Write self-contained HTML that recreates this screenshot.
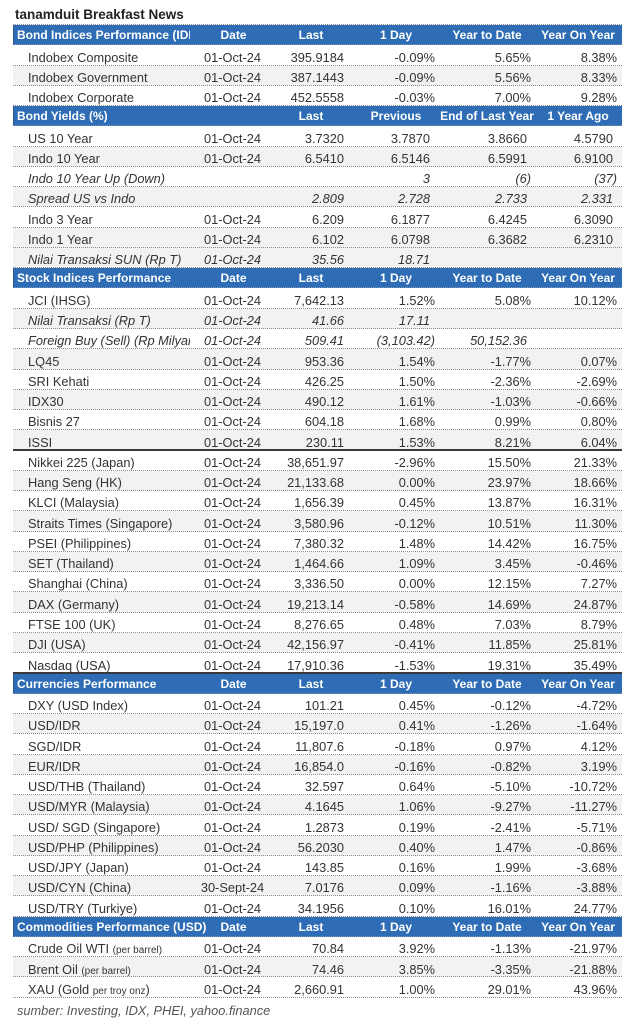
<!DOCTYPE html>
<html><head><meta charset="utf-8">
<style>
*{margin:0;padding:0}
body{width:640px;height:1024px;background:#fff;position:relative;overflow:hidden;font-family:"Liberation Sans",Arial,sans-serif;color:#333}
.title{position:absolute;left:15px;top:7px;font-weight:bold;font-size:13.5px;line-height:16px;color:#222}
.wrap{position:absolute;left:13px;top:24px;width:609px;border-top:1px dotted #8c8c8c}
.r{position:relative;height:20.27px;box-sizing:border-box;border-bottom:1px dotted #8c8c8c;background:#fff;font-size:12.8px}
.r.g{background:#f2f2f2}
.r.k{border-bottom:2px solid #3a3a3a}
.r span{position:absolute;top:4.3px;line-height:15px;white-space:nowrap}
.r span.sm{position:static;font-size:10px}
.l{left:15px}
.d{left:182px;width:75px;text-align:center}
.c1{right:278px}
.c2{right:187px}
.c3{right:91px}
.c4{right:5px}
.b2{right:192px}
.b3{right:95px}
.b4{right:9px}
.i{font-style:italic}
.clip{width:162px;overflow:hidden}
.h{background:#2e6db5;color:#fff;font-weight:bold;font-size:12px;border-bottom:1px dotted #7f97b8;border-left:1px solid #2a5a96}
.h span{top:3.3px;line-height:15px}
.hl{left:3px}
.hclip{width:173px;overflow:hidden}
.hd{left:182px;width:75px;text-align:center}
.hL{left:257px;width:80px;text-align:center}
.h1{left:337px;width:90px;text-align:center}
.h2{left:428px;width:116px;text-align:center;margin-left:-13px}
.h3{left:519px;width:90px;text-align:center}
.src{position:absolute;left:17px;top:1003px;font-size:12.8px;line-height:15px;font-style:italic;color:#555}
</style></head><body>
<div class="title">tanamduit Breakfast News</div>
<div class="wrap">
<div class="r h"><span class="hl hclip">Bond Indices Performance (IDR)</span><span class="hd">Date</span><span class="hL">Last</span><span class="h1">1 Day</span><span class="h2">Year to Date</span><span class="h3">Year On Year</span></div>
<div class="r"><span class="l">Indobex Composite</span><span class="d">01-Oct-24</span><span class="c1">395.9184</span><span class="c2">-0.09%</span><span class="c3">5.65%</span><span class="c4">8.38%</span></div>
<div class="r g"><span class="l">Indobex Government</span><span class="d">01-Oct-24</span><span class="c1">387.1443</span><span class="c2">-0.09%</span><span class="c3">5.56%</span><span class="c4">8.33%</span></div>
<div class="r"><span class="l">Indobex Corporate</span><span class="d">01-Oct-24</span><span class="c1">452.5558</span><span class="c2">-0.03%</span><span class="c3">7.00%</span><span class="c4">9.28%</span></div>

<div class="r h"><span class="hl">Bond Yields (%)</span><span class="hL">Last</span><span class="h1">Previous</span><span class="h2">End of Last Year</span><span class="h3">1 Year Ago</span></div>
<div class="r"><span class="l">US 10 Year</span><span class="d">01-Oct-24</span><span class="c1">3.7320</span><span class="b2">3.7870</span><span class="b3">3.8660</span><span class="b4">4.5790</span></div>
<div class="r g"><span class="l">Indo 10 Year</span><span class="d">01-Oct-24</span><span class="c1">6.5410</span><span class="b2">6.5146</span><span class="b3">6.5991</span><span class="b4">6.9100</span></div>
<div class="r"><span class="l i">Indo 10 Year Up (Down)</span><span class="b2 i">3</span><span class="c3 i">(6)</span><span class="c4 i">(37)</span></div>
<div class="r g"><span class="l i">Spread US vs Indo</span><span class="c1 i">2.809</span><span class="b2 i">2.728</span><span class="b3 i">2.733</span><span class="b4 i">2.331</span></div>
<div class="r"><span class="l">Indo 3 Year</span><span class="d">01-Oct-24</span><span class="c1">6.209</span><span class="b2">6.1877</span><span class="b3">6.4245</span><span class="b4">6.3090</span></div>
<div class="r g"><span class="l">Indo 1 Year</span><span class="d">01-Oct-24</span><span class="c1">6.102</span><span class="b2">6.0798</span><span class="b3">6.3682</span><span class="b4">6.2310</span></div>
<div class="r g"><span class="l i">Nilai Transaksi SUN (Rp T)</span><span class="d i">01-Oct-24</span><span class="c1 i">35.56</span><span class="b2 i">18.71</span></div>

<div class="r h"><span class="hl">Stock Indices Performance</span><span class="hd">Date</span><span class="hL">Last</span><span class="h1">1 Day</span><span class="h2">Year to Date</span><span class="h3">Year On Year</span></div>
<div class="r"><span class="l">JCI (IHSG)</span><span class="d">01-Oct-24</span><span class="c1">7,642.13</span><span class="c2">1.52%</span><span class="c3">5.08%</span><span class="c4">10.12%</span></div>
<div class="r g"><span class="l i">Nilai Transaksi (Rp T)</span><span class="d i">01-Oct-24</span><span class="c1 i">41.66</span><span class="b2 i">17.11</span></div>
<div class="r"><span class="l i clip">Foreign Buy (Sell) (Rp Milyar)</span><span class="d i">01-Oct-24</span><span class="c1 i">509.41</span><span class="c2 i">(3,103.42)</span><span class="b3 i">50,152.36</span></div>
<div class="r g"><span class="l">LQ45</span><span class="d">01-Oct-24</span><span class="c1">953.36</span><span class="c2">1.54%</span><span class="c3">-1.77%</span><span class="c4">0.07%</span></div>
<div class="r"><span class="l">SRI Kehati</span><span class="d">01-Oct-24</span><span class="c1">426.25</span><span class="c2">1.50%</span><span class="c3">-2.36%</span><span class="c4">-2.69%</span></div>
<div class="r g"><span class="l">IDX30</span><span class="d">01-Oct-24</span><span class="c1">490.12</span><span class="c2">1.61%</span><span class="c3">-1.03%</span><span class="c4">-0.66%</span></div>
<div class="r"><span class="l">Bisnis 27</span><span class="d">01-Oct-24</span><span class="c1">604.18</span><span class="c2">1.68%</span><span class="c3">0.99%</span><span class="c4">0.80%</span></div>
<div class="r g k"><span class="l">ISSI</span><span class="d">01-Oct-24</span><span class="c1">230.11</span><span class="c2">1.53%</span><span class="c3">8.21%</span><span class="c4">6.04%</span></div>
<div class="r"><span class="l">Nikkei 225 (Japan)</span><span class="d">01-Oct-24</span><span class="c1">38,651.97</span><span class="c2">-2.96%</span><span class="c3">15.50%</span><span class="c4">21.33%</span></div>
<div class="r g"><span class="l">Hang Seng (HK)</span><span class="d">01-Oct-24</span><span class="c1">21,133.68</span><span class="c2">0.00%</span><span class="c3">23.97%</span><span class="c4">18.66%</span></div>
<div class="r"><span class="l">KLCI (Malaysia)</span><span class="d">01-Oct-24</span><span class="c1">1,656.39</span><span class="c2">0.45%</span><span class="c3">13.87%</span><span class="c4">16.31%</span></div>
<div class="r g"><span class="l">Straits Times (Singapore)</span><span class="d">01-Oct-24</span><span class="c1">3,580.96</span><span class="c2">-0.12%</span><span class="c3">10.51%</span><span class="c4">11.30%</span></div>
<div class="r"><span class="l">PSEI (Philippines)</span><span class="d">01-Oct-24</span><span class="c1">7,380.32</span><span class="c2">1.48%</span><span class="c3">14.42%</span><span class="c4">16.75%</span></div>
<div class="r g"><span class="l">SET (Thailand)</span><span class="d">01-Oct-24</span><span class="c1">1,464.66</span><span class="c2">1.09%</span><span class="c3">3.45%</span><span class="c4">-0.46%</span></div>
<div class="r"><span class="l">Shanghai (China)</span><span class="d">01-Oct-24</span><span class="c1">3,336.50</span><span class="c2">0.00%</span><span class="c3">12.15%</span><span class="c4">7.27%</span></div>
<div class="r g"><span class="l">DAX (Germany)</span><span class="d">01-Oct-24</span><span class="c1">19,213.14</span><span class="c2">-0.58%</span><span class="c3">14.69%</span><span class="c4">24.87%</span></div>
<div class="r"><span class="l">FTSE 100 (UK)</span><span class="d">01-Oct-24</span><span class="c1">8,276.65</span><span class="c2">0.48%</span><span class="c3">7.03%</span><span class="c4">8.79%</span></div>
<div class="r g"><span class="l">DJI (USA)</span><span class="d">01-Oct-24</span><span class="c1">42,156.97</span><span class="c2">-0.41%</span><span class="c3">11.85%</span><span class="c4">25.81%</span></div>
<div class="r k"><span class="l">Nasdaq (USA)</span><span class="d">01-Oct-24</span><span class="c1">17,910.36</span><span class="c2">-1.53%</span><span class="c3">19.31%</span><span class="c4">35.49%</span></div>

<div class="r h"><span class="hl">Currencies Performance</span><span class="hd">Date</span><span class="hL">Last</span><span class="h1">1 Day</span><span class="h2">Year to Date</span><span class="h3">Year On Year</span></div>
<div class="r"><span class="l">DXY (USD Index)</span><span class="d">01-Oct-24</span><span class="c1">101.21</span><span class="c2">0.45%</span><span class="c3">-0.12%</span><span class="c4">-4.72%</span></div>
<div class="r g"><span class="l">USD/IDR</span><span class="d">01-Oct-24</span><span class="c1">15,197.0</span><span class="c2">0.41%</span><span class="c3">-1.26%</span><span class="c4">-1.64%</span></div>
<div class="r"><span class="l">SGD/IDR</span><span class="d">01-Oct-24</span><span class="c1">11,807.6</span><span class="c2">-0.18%</span><span class="c3">0.97%</span><span class="c4">4.12%</span></div>
<div class="r g"><span class="l">EUR/IDR</span><span class="d">01-Oct-24</span><span class="c1">16,854.0</span><span class="c2">-0.16%</span><span class="c3">-0.82%</span><span class="c4">3.19%</span></div>
<div class="r"><span class="l">USD/THB (Thailand)</span><span class="d">01-Oct-24</span><span class="c1">32.597</span><span class="c2">0.64%</span><span class="c3">-5.10%</span><span class="c4">-10.72%</span></div>
<div class="r g"><span class="l">USD/MYR (Malaysia)</span><span class="d">01-Oct-24</span><span class="c1">4.1645</span><span class="c2">1.06%</span><span class="c3">-9.27%</span><span class="c4">-11.27%</span></div>
<div class="r"><span class="l">USD/ SGD (Singapore)</span><span class="d">01-Oct-24</span><span class="c1">1.2873</span><span class="c2">0.19%</span><span class="c3">-2.41%</span><span class="c4">-5.71%</span></div>
<div class="r g"><span class="l">USD/PHP (Philippines)</span><span class="d">01-Oct-24</span><span class="c1">56.2030</span><span class="c2">0.40%</span><span class="c3">1.47%</span><span class="c4">-0.86%</span></div>
<div class="r"><span class="l">USD/JPY (Japan)</span><span class="d">01-Oct-24</span><span class="c1">143.85</span><span class="c2">0.16%</span><span class="c3">1.99%</span><span class="c4">-3.68%</span></div>
<div class="r g"><span class="l">USD/CYN (China)</span><span class="d">30-Sept-24</span><span class="c1">7.0176</span><span class="c2">0.09%</span><span class="c3">-1.16%</span><span class="c4">-3.88%</span></div>
<div class="r"><span class="l">USD/TRY (Turkiye)</span><span class="d">01-Oct-24</span><span class="c1">34.1956</span><span class="c2">0.10%</span><span class="c3">16.01%</span><span class="c4">24.77%</span></div>

<div class="r h"><span class="hl">Commodities Performance (USD)</span><span class="hd">Date</span><span class="hL">Last</span><span class="h1">1 Day</span><span class="h2">Year to Date</span><span class="h3">Year On Year</span></div>
<div class="r"><span class="l">Crude Oil WTI <span class="sm">(per barrel)</span></span><span class="d">01-Oct-24</span><span class="c1">70.84</span><span class="c2">3.92%</span><span class="c3">-1.13%</span><span class="c4">-21.97%</span></div>
<div class="r g"><span class="l">Brent Oil <span class="sm">(per barrel)</span></span><span class="d">01-Oct-24</span><span class="c1">74.46</span><span class="c2">3.85%</span><span class="c3">-3.35%</span><span class="c4">-21.88%</span></div>
<div class="r"><span class="l">XAU (Gold <span class="sm">per troy onz</span>)</span><span class="d">01-Oct-24</span><span class="c1">2,660.91</span><span class="c2">1.00%</span><span class="c3">29.01%</span><span class="c4">43.96%</span></div>
</div>
<div class="src">sumber: Investing, IDX, PHEI, yahoo.finance</div>
</body></html>
